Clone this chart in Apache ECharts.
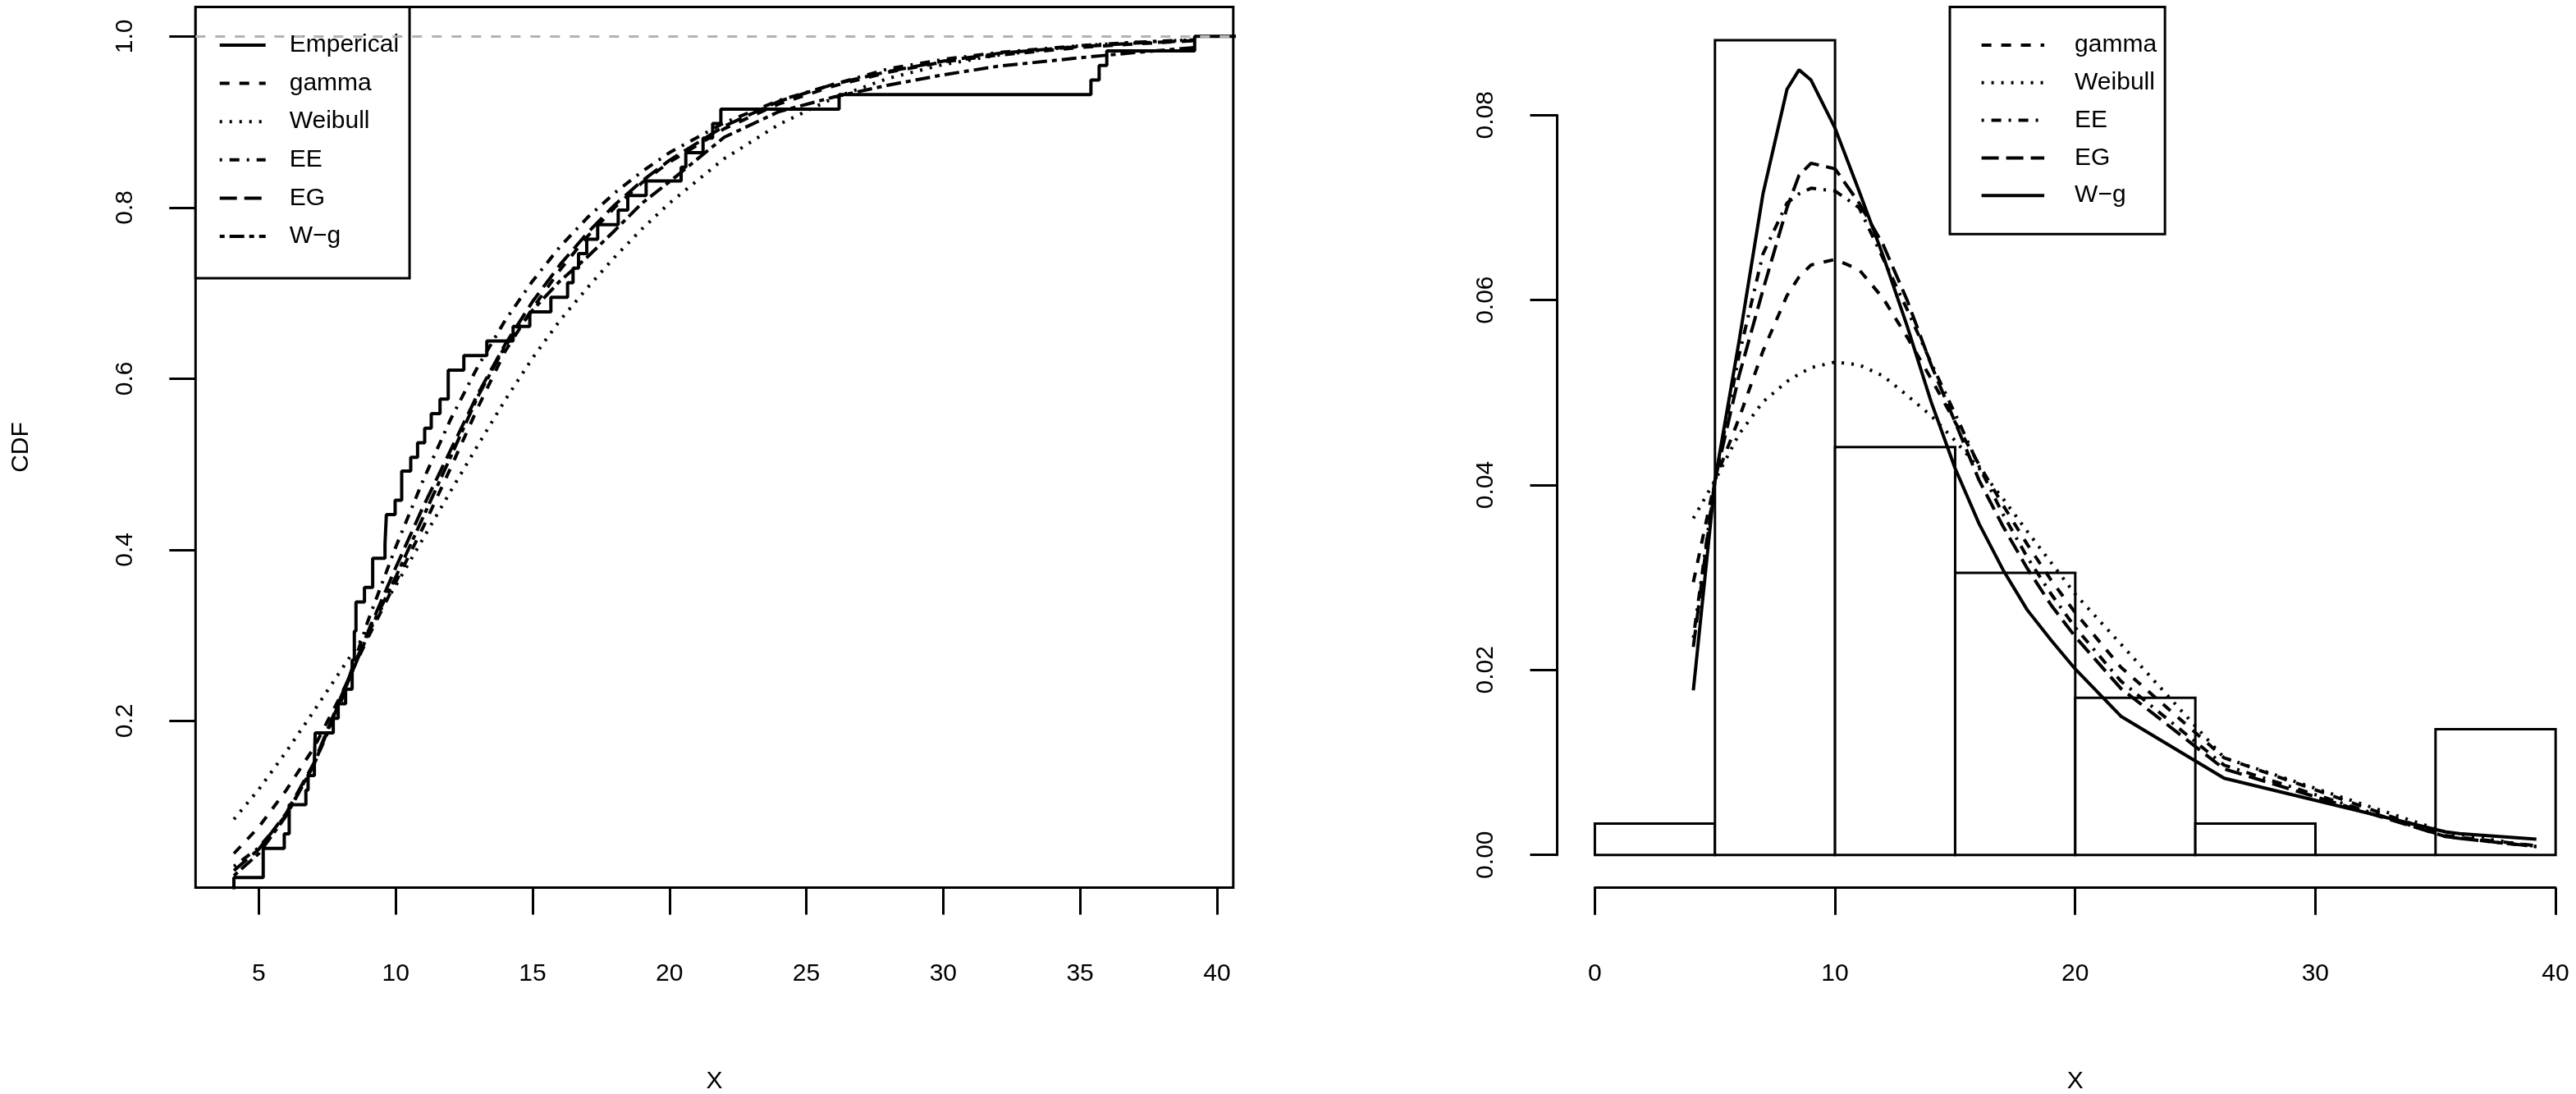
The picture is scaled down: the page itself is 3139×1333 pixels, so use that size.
<!DOCTYPE html>
<html>
<head>
<meta charset="utf-8">
<script src="https://cdn.jsdelivr.net/npm/echarts@6/dist/echarts.min.js"></script>
<style>
  html, body { margin: 0; padding: 0; background: #fff; }
  #chart { width: 3139px; height: 1333px; }
</style>
</head>
<body>
<div id="chart"></div>
<script>
  // ---------- left panel: empirical CDF (jump position, level after the jump) ----------
  var ecdfX = [0, 4.09, 5.16, 5.93, 6.11, 6.72, 6.80, 7.03, 7.06, 7.72, 7.90, 8.17, 8.41, 8.49, 8.55, 8.86,
    9.16, 9.61, 9.66, 9.98, 10.22, 10.55, 10.80, 11.06, 11.30, 11.62, 11.92, 12.49, 13.33, 14.29, 14.90,
    15.67, 16.28, 16.48, 16.68, 16.98, 17.38, 18.13, 18.48, 19.15, 20.43, 20.60, 21.23, 21.58, 21.88,
    26.20, 35.40, 35.70, 35.98, 39.19, 45];
  var ecdfY = [0, 0.017, 0.051, 0.068, 0.102, 0.119, 0.136, 0.153, 0.186, 0.203, 0.220, 0.237, 0.271, 0.305, 0.339, 0.356,
    0.390, 0.407, 0.441, 0.458, 0.492, 0.508, 0.525, 0.542, 0.559, 0.576, 0.610, 0.627, 0.644, 0.661, 0.678,
    0.695, 0.712, 0.729, 0.746, 0.763, 0.780, 0.797, 0.814, 0.831, 0.847, 0.864, 0.881, 0.898, 0.915,
    0.932, 0.949, 0.966, 0.983, 1.000, 1.000];

  // fitted CDF curves
  var cdfX = [4.09, 5, 6, 7, 8, 9, 10, 11, 12, 13, 14, 15, 16, 17, 18, 19, 20, 22, 24, 26, 28, 30, 32, 35, 37, 39.19];
  var gammaCdf = [0.045, 0.076, 0.119, 0.168, 0.230, 0.298, 0.362, 0.426, 0.495, 0.566, 0.632, 0.682, 0.727, 0.766, 0.800, 0.829, 0.853, 0.892, 0.921, 0.942, 0.958, 0.970, 0.978, 0.987, 0.991, 0.995];
  var weibullCdf = [0.085, 0.120, 0.164, 0.211, 0.259, 0.307, 0.358, 0.413, 0.468, 0.522, 0.575, 0.624, 0.668, 0.706, 0.742, 0.775, 0.805, 0.857, 0.897, 0.928, 0.951, 0.967, 0.978, 0.989, 0.993, 0.996];
  var eeCdf = [0.030, 0.052, 0.090, 0.148, 0.222, 0.318, 0.403, 0.481, 0.552, 0.614, 0.668, 0.714, 0.754, 0.788, 0.817, 0.842, 0.864, 0.899, 0.925, 0.944, 0.962, 0.973, 0.981, 0.989, 0.993, 0.996];
  var egCdf = [0.025, 0.050, 0.092, 0.150, 0.228, 0.305, 0.379, 0.450, 0.516, 0.582, 0.640, 0.690, 0.733, 0.770, 0.803, 0.831, 0.855, 0.895, 0.924, 0.944, 0.959, 0.971, 0.980, 0.988, 0.992, 0.995];
  var wgCdf = [0.019, 0.045, 0.089, 0.148, 0.226, 0.302, 0.368, 0.438, 0.508, 0.579, 0.638, 0.680, 0.714, 0.742, 0.773, 0.805, 0.830, 0.882, 0.912, 0.929, 0.943, 0.955, 0.965, 0.975, 0.981, 0.987];

  // ---------- right panel: histogram (density scale) ----------
  var binStart = [0, 5, 10, 15, 20, 25, 30, 35];
  var binEnd = [5, 10, 15, 20, 25, 30, 35, 40];
  var binDensity = [0.0034, 0.0881, 0.0441, 0.0305, 0.0170, 0.0034, 0, 0.0136];

  // fitted density curves
  var densX = [4.1, 5, 6, 7, 8, 8.5, 9, 10, 11, 12, 13, 14, 15, 16, 17, 18, 19, 20, 21.9, 26.2, 35.4, 36, 39.2];
  var gammaPdf = [0.0295, 0.0405, 0.0472, 0.0545, 0.0605, 0.0625, 0.0638, 0.0644, 0.0633, 0.0602, 0.0560, 0.0515, 0.0468, 0.0422, 0.0378, 0.0336, 0.0297, 0.0262, 0.0203, 0.0105, 0.0021, 0.0019, 0.0010];
  var weibullPdf = [0.0364, 0.0405, 0.0455, 0.0490, 0.0512, 0.0520, 0.0527, 0.0533, 0.0530, 0.0518, 0.0497, 0.0475, 0.0448, 0.0418, 0.0385, 0.0350, 0.0316, 0.0282, 0.0228, 0.0105, 0.0025, 0.0022, 0.0009];
  var eePdf = [0.0235, 0.0405, 0.0540, 0.0650, 0.0705, 0.0715, 0.0721, 0.0718, 0.0700, 0.0645, 0.0590, 0.0532, 0.0477, 0.0420, 0.0368, 0.0322, 0.0282, 0.0246, 0.0188, 0.0097, 0.0020, 0.0018, 0.0009];
  var egPdf = [0.0225, 0.0405, 0.0518, 0.0611, 0.0700, 0.0735, 0.0748, 0.0742, 0.0705, 0.0660, 0.0600, 0.0530, 0.0468, 0.0405, 0.0355, 0.0310, 0.0270, 0.0236, 0.0180, 0.0093, 0.0020, 0.0018, 0.0009];
  var wgPdf = [0.0178, 0.0405, 0.0555, 0.0715, 0.0828, 0.0849, 0.0838, 0.0786, 0.0718, 0.0648, 0.0572, 0.0490, 0.0418, 0.0358, 0.0308, 0.0265, 0.0232, 0.0201, 0.0150, 0.0083, 0.0025, 0.0023, 0.0017];

  // legend labels
  var leftNames = ['Emperical', 'gamma', 'Weibull', 'EE', 'EG', 'W\u2212g'];
  var rightNames = ['gamma', 'Weibull', 'EE', 'EG', 'W\u2212g'];

  var FONT = '"Liberation Sans", Arial, Helvetica, sans-serif';
  var LW = 4;
  // R line types (lty 2..6) as pixel dash arrays
  var DASHED = [12, 12], DOTTED = [3, 9], DOTDASH = [3, 9, 12, 9], LONGDASH = [21, 9], TWODASH = [6, 6, 18, 6];

  function pairs(xs, ys) {
    return xs.map(function (x, i) { return [x, ys[i]]; });
  }

  function curve(name, xs, ys, dash, axis) {
    return {
      name: name, type: 'line', xAxisIndex: axis, yAxisIndex: axis,
      data: pairs(xs, ys), symbol: 'none', z: 3,
      lineStyle: { color: '#000', width: LW, type: dash, cap: 'butt' }
    };
  }

  var txt = { fontFamily: FONT, fontSize: 30, color: '#000' };
  var hidden = { show: false };
  var blank = {
    axisLine: { show: false, onZero: false }, axisTick: hidden, axisLabel: hidden, splitLine: hidden
  };

  var chart = echarts.init(document.getElementById('chart'), null, { renderer: 'canvas' });

  var option = {
    animation: false,
    backgroundColor: '#fff',
    grid: [
      // 0: left plot box
      { left: 238.3, top: 8.4, width: 1264.5, height: 1073.2, show: true, borderColor: '#000', borderWidth: 3, backgroundColor: 'transparent', outerBoundsMode: 'none' },
      // 1: left x ticks
      { left: 315.4, top: 1071.6, width: 1167.5, height: 10, outerBoundsMode: 'none' },
      // 2: left y ticks
      { left: 238.3, top: 44.3, width: 10, height: 834.1, outerBoundsMode: 'none' },
      // 3: right plot region
      { left: 1896.6, top: 8.4, width: 1264.4, height: 1073.3, outerBoundsMode: 'none' },
      // 4: right y axis
      { left: 1897.5, top: 140.3, width: 10, height: 901.4, outerBoundsMode: 'none' },
      // 5: right x axis
      { left: 1943.4, top: 1071.7, width: 1170.6, height: 10, outerBoundsMode: 'none' }
    ],
    xAxis: [
      Object.assign({ gridIndex: 0, type: 'value', min: 2.689, max: 40.6, name: 'X', nameLocation: 'middle', nameGap: 221, nameTextStyle: txt }, blank),
      { gridIndex: 1, type: 'value', min: 5, max: 40, interval: 5,
        axisLine: { show: false, onZero: false },
        axisTick: { length: 33, lineStyle: { color: '#000', width: 3 } },
        axisLabel: Object.assign({ margin: 90 }, txt), splitLine: hidden },
      { gridIndex: 2, type: 'value', min: 0, max: 1, show: false },
      Object.assign({ gridIndex: 3, type: 'value', min: -1.6, max: 41.6, name: 'X', nameLocation: 'middle', nameGap: 221, nameTextStyle: txt }, blank),
      { gridIndex: 4, type: 'value', min: 0, max: 1, show: false },
      { gridIndex: 5, type: 'value', min: 0, max: 40, interval: 10,
        axisLine: { show: true, onZero: false, lineStyle: { color: '#000', width: 3 } },
        axisTick: { length: 33, lineStyle: { color: '#000', width: 3 } },
        axisLabel: Object.assign({ margin: 90 }, txt), splitLine: hidden }
    ],
    yAxis: [
      Object.assign({ gridIndex: 0, type: 'value', min: 0.0051, max: 1.0344, name: 'CDF', nameLocation: 'middle', nameRotate: 90, nameGap: 198, nameTextStyle: txt }, blank),
      { gridIndex: 1, type: 'value', min: 0, max: 1, show: false },
      { gridIndex: 2, type: 'value', min: 0.2, max: 1.0, interval: 0.2,
        axisLine: { show: false, onZero: false },
        axisTick: { length: 32, lineStyle: { color: '#000', width: 3 } },
        axisLabel: Object.assign({ margin: 71, rotate: 90, formatter: function (v) { return v.toFixed(1); } }, txt),
        splitLine: hidden },
      { gridIndex: 3, type: 'value', min: -0.00355, max: 0.09171, show: false },
      { gridIndex: 4, type: 'value', min: 0, max: 0.08, interval: 0.02,
        axisLine: { show: true, onZero: false, lineStyle: { color: '#000', width: 3 } },
        axisTick: { length: 33, lineStyle: { color: '#000', width: 3 } },
        axisLabel: Object.assign({ margin: 72, rotate: 90, formatter: function (v) { return v.toFixed(2); } }, txt),
        splitLine: hidden },
      { gridIndex: 5, type: 'value', min: 0, max: 1, show: false }
    ],
    legend: [
      { data: leftNames, orient: 'vertical', left: 238.3, top: 8.4,
        itemWidth: 56, itemHeight: 30, itemGap: 16.6, padding: [31.6, 13, 36, 27.4],
        backgroundColor: '#fff', borderColor: '#000', borderWidth: 3, borderRadius: 0,
        selectedMode: false, itemStyle: { color: 'rgba(0,0,0,0)', borderWidth: 0 },
        lineStyle: { width: LW },
        textStyle: Object.assign({ padding: [0, 0, 0, 24] }, txt) },
      { data: rightNames.map(function (n) { return n + ' '; }), orient: 'vertical', left: 2376, top: 8.4,
        itemWidth: 76.5, itemHeight: 30, itemGap: 15.8, padding: [31.6, 10, 32, 36.6],
        backgroundColor: '#fff', borderColor: '#000', borderWidth: 3, borderRadius: 0,
        selectedMode: false, itemStyle: { color: 'rgba(0,0,0,0)', borderWidth: 0 },
        lineStyle: { width: LW },
        formatter: function (n) { return n.trim(); },
        textStyle: Object.assign({ padding: [0, 0, 0, 32] }, txt) }
    ],
    series: [
      {
        name: 'Emperical', type: 'line', xAxisIndex: 0, yAxisIndex: 0, step: 'end',
        data: pairs(ecdfX, ecdfY), symbol: 'none', z: 3,
        lineStyle: { color: '#000', width: LW },
        markLine: {
          silent: true, symbol: ['none', 'none'], label: { show: false },
          lineStyle: { color: '#b3b3b3', type: [12, 12], width: 3 },
          data: [{ yAxis: 1 }]
        }
      },
      curve('gamma', cdfX, gammaCdf, DASHED, 0),
      curve('Weibull', cdfX, weibullCdf, DOTTED, 0),
      curve('EE', cdfX, eeCdf, DOTDASH, 0),
      curve('EG', cdfX, egCdf, LONGDASH, 0),
      curve('W\u2212g', cdfX, wgCdf, TWODASH, 0),
      {
        type: 'custom', xAxisIndex: 3, yAxisIndex: 3, z: 2,
        data: binStart.map(function (s, i) { return [s, binEnd[i], binDensity[i]]; }),
        encode: { x: [0, 1], y: 2 },
        renderItem: function (params, api) {
          var p0 = api.coord([api.value(0), api.value(2)]);
          var p1 = api.coord([api.value(1), 0]);
          return {
            type: 'rect',
            shape: { x: p0[0], y: p0[1], width: p1[0] - p0[0], height: p1[1] - p0[1] },
            style: { fill: '#fff', stroke: '#000', lineWidth: 3 }
          };
        }
      },
      curve('gamma ', densX, gammaPdf, DASHED, 3),
      curve('Weibull ', densX, weibullPdf, DOTTED, 3),
      curve('EE ', densX, eePdf, DOTDASH, 3),
      curve('EG ', densX, egPdf, LONGDASH, 3),
      curve('W\u2212g ', densX, wgPdf, 'solid', 3)
    ]
  };

  chart.setOption(option);
</script>
</body>
</html>
